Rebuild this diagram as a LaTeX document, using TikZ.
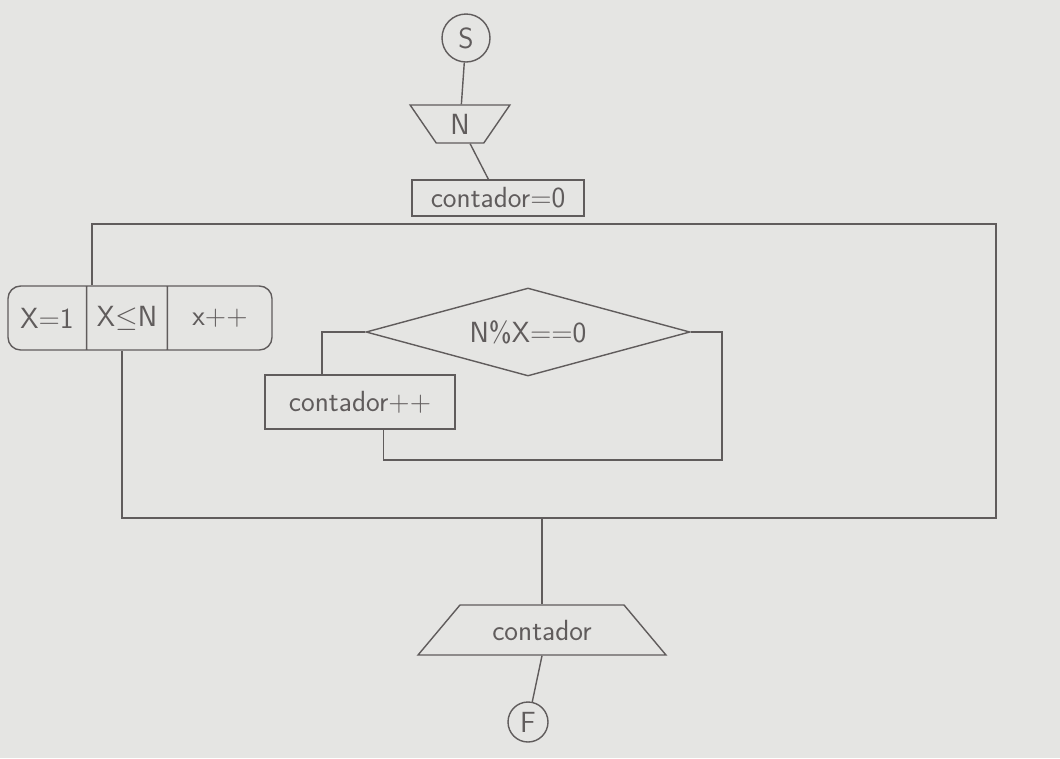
\documentclass[tikz,border=0pt]{standalone}
\usepackage{tikz}
\usetikzlibrary{shapes.geometric, shapes.multipart, positioning, calc}

\definecolor{pencil}{RGB}{96,92,92}
\definecolor{paper}{RGB}{229,229,227}

\tikzset{
  term/.style={circle, draw, minimum size=#1, inner sep=0pt},
  inp/.style={trapezium, draw, trapezium stretches=true, shape border rotate=180,
    trapezium left angle=62, trapezium right angle=62},
  outp/.style={trapezium, draw, trapezium stretches=true,
    trapezium left angle=47, trapezium right angle=47},
  proc/.style={rectangle, draw, inner sep=2pt},
  cond/.style={diamond, draw, inner sep=0pt, aspect=3.7},
  forbox/.style={rectangle split, rectangle split horizontal, rectangle split parts=3,
    draw, rounded corners=9pt, inner xsep=0.2cm, minimum height=1.6cm}
}

\begin{document}
\begin{tikzpicture}[line width=1pt, draw=pencil, text=pencil, font=\huge\sffamily]
      \fill[paper] (0,0) rectangle (26.5,-18.95);
      \useasboundingbox (0,0) rectangle (26.5,-18.95);

      \node[term=1.2cm] (s) at (11.65,-0.95) {S};
      \node[inp, minimum width=2.5cm, minimum height=0.95cm] (n) at (11.5,-3.1) {N};
      \node[proc, minimum width=4.3cm, minimum height=0.9cm] (c0) at (12.45,-4.95) {contador=0};

      \node[forbox] (for) at (3.5,-7.95)
        {\makebox[1.55cm]{X=1}\nodepart{two}\makebox[1.58cm]{X$\leq$N}\nodepart{three}\makebox[2.2cm]{x++}};
      \node[cond, minimum width=8.1cm, minimum height=2.2cm] (mod) at (13.2,-8.3) {N\%X==0};
      \node[proc, minimum width=4.75cm, minimum height=1.35cm] (inc) at (9.0,-10.05) {contador++};

      \node[outp, minimum width=6.2cm, minimum height=1.25cm] (out) at (13.55,-15.75) {contador};
      \node[term=1.0cm] (f) at (13.2,-18.05) {F};

      % loop frame
      \coordinate (tl) at (2.3,-5.6);
      \coordinate (tr) at (24.9,-5.6);
      \coordinate (br) at (24.9,-12.95);
      \coordinate (bl) at (3.05,-12.95);
      \coordinate (rb) at (18.05,-11.5);

      \draw (s) -- (n);
      \draw (n) -- (c0);
      \draw (for.north -| tl) -- (tl) -- (tr) -- (br) -- (bl) -- (for.south -| bl);
      \draw (mod.west) -| ($(inc.north)+(-0.95,0)$);
      \draw (mod.east) -| (rb) -| ($(inc.south)+(0.58,0)$);
      \draw (bl -| out.north) -- (out.north);
      \draw (out.south) -- (f);
\end{tikzpicture}
\end{document}
